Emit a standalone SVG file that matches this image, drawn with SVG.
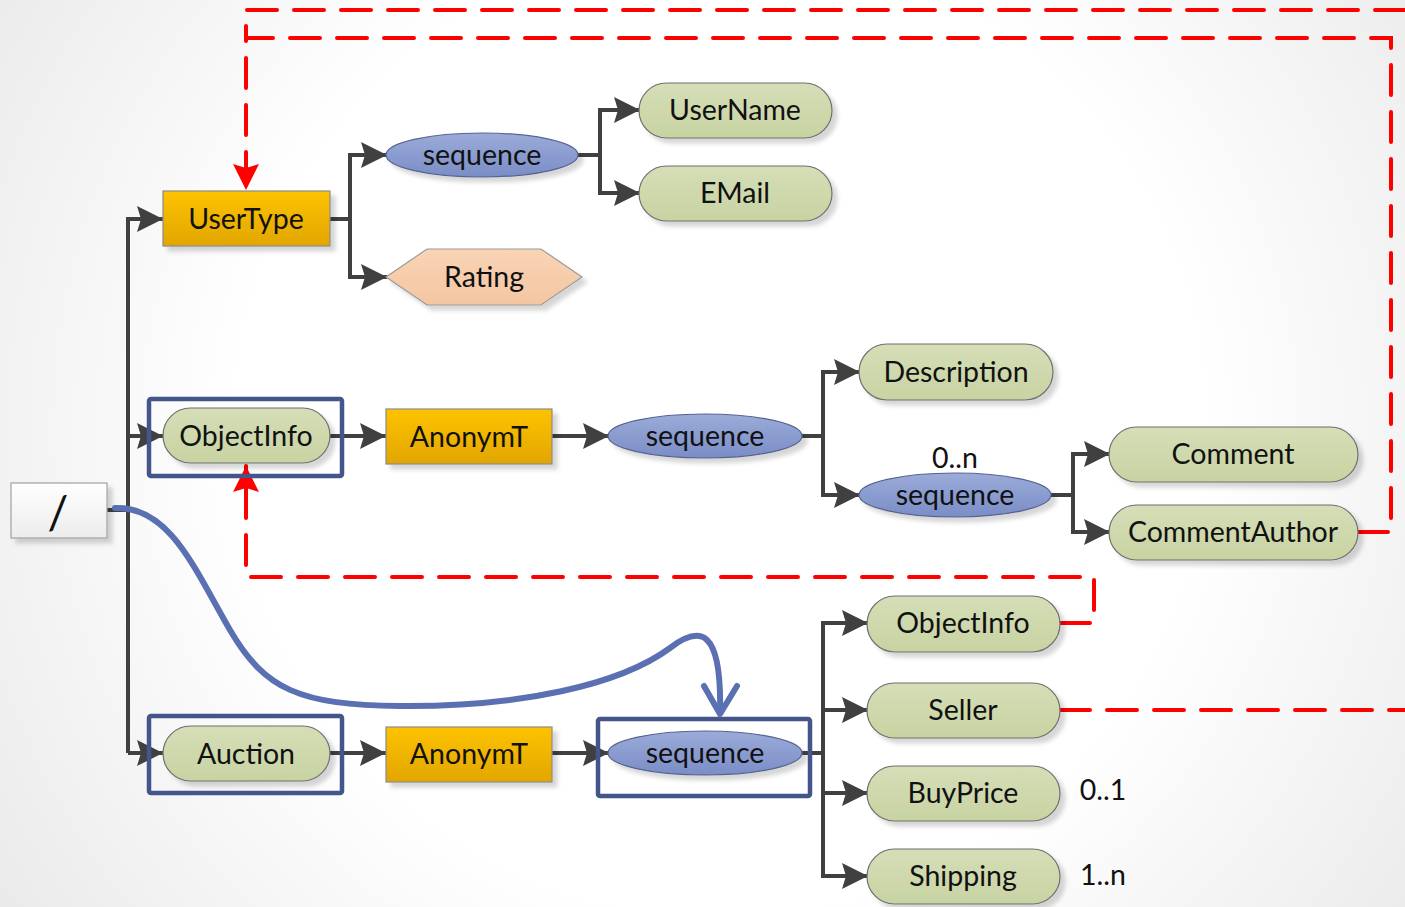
<svg xmlns="http://www.w3.org/2000/svg" width="1405" height="907" viewBox="0 0 1405 907">
  <defs>
    <radialGradient id="bg" gradientUnits="userSpaceOnUse" cx="720" cy="430" r="880">
      <stop offset="0.55" stop-color="#ffffff"/>
      <stop offset="1" stop-color="#e9e9e9"/>
    </radialGradient>
    <linearGradient id="gYellow" x1="0" y1="0" x2="0" y2="1">
      <stop offset="0" stop-color="#fdc300"/>
      <stop offset="1" stop-color="#e2a600"/>
    </linearGradient>
    <linearGradient id="gGreen" x1="0" y1="0" x2="0" y2="1">
      <stop offset="0" stop-color="#d5deb7"/>
      <stop offset="1" stop-color="#c8d3a2"/>
    </linearGradient>
    <linearGradient id="gBlue" x1="0" y1="0" x2="0" y2="1">
      <stop offset="0" stop-color="#9babd9"/>
      <stop offset="1" stop-color="#7a8dc6"/>
    </linearGradient>
    <linearGradient id="gPeach" x1="0" y1="0" x2="0" y2="1">
      <stop offset="0" stop-color="#f9d4b6"/>
      <stop offset="1" stop-color="#f3c6a2"/>
    </linearGradient>
    <linearGradient id="gRoot" x1="0" y1="0" x2="0" y2="1">
      <stop offset="0" stop-color="#ffffff"/>
      <stop offset="1" stop-color="#ececec"/>
    </linearGradient>
    <filter id="shadow" x="-20%" y="-30%" width="140%" height="170%">
      <feDropShadow dx="5" dy="5" stdDeviation="2" flood-color="#000" flood-opacity="0.16"/>
    </filter>
    <marker id="arrow" viewBox="0 0 26 26" refX="26" refY="13" markerWidth="26" markerHeight="26" markerUnits="userSpaceOnUse" orient="auto">
      <path d="M0,0 L26,13 L0,26 L4,13 Z" fill="#404040"/>
    </marker>
    <marker id="arrowRed" viewBox="0 0 26 26" refX="26" refY="13" markerWidth="26" markerHeight="26" markerUnits="userSpaceOnUse" orient="auto">
      <path d="M0,0 L26,13 L0,26 L4,13 Z" fill="#ff0000"/>
    </marker>
  </defs>
  <style>
    text { font-family: Lato, "Liberation Sans", sans-serif; font-size: 28.5px; fill: #111; text-anchor: middle; dominant-baseline: central; }
    .box { fill: url(#gYellow); stroke: #8a8a8a; stroke-width: 1.2; filter: url(#shadow); }
    .pill { fill: url(#gGreen); stroke: #6f6f6f; stroke-width: 1.2; filter: url(#shadow); }
    .seq { fill: url(#gBlue); stroke: #55638f; stroke-width: 1.2; filter: url(#shadow); }
    .hex { fill: url(#gPeach); stroke: #9a9a9a; stroke-width: 1.2; filter: url(#shadow); }
    .root { fill: url(#gRoot); stroke: #a0a0a0; stroke-width: 1.2; filter: url(#shadow); }
    .frame { fill: none; stroke: #44558a; stroke-width: 4.5; }
    .link { fill: none; stroke: #404040; stroke-width: 4; }
    .link.arr { marker-end: url(#arrow); }
    .ref { fill: none; stroke: #ff0000; stroke-width: 4; stroke-dasharray: 30 17; stroke-linecap: round; }
    .ref.arr { marker-end: url(#arrowRed); }
    .path { fill: none; stroke: #5a70b2; stroke-width: 6; stroke-linecap: round; stroke-linejoin: round; }
  </style>

  <rect x="0" y="0" width="1405" height="907" fill="url(#bg)"/>

  <!-- tree connectors -->
  <g id="connectors">
    <path class="link" d="M107,510 H128"/>
    <path class="link arr" d="M128,753 V219 H163"/>
    <path class="link arr" d="M128,436 H163"/>
    <path class="link arr" d="M128,753 H163"/>

    <path class="link arr" d="M330,219 H350 V155 H387"/>
    <path class="link arr" d="M350,219 V277 H387"/>
    <path class="link arr" d="M578,155 H600 V110 H640"/>
    <path class="link arr" d="M600,155 V193 H640"/>

    <path class="link arr" d="M330,436 H386"/>
    <path class="link arr" d="M552,436 H609"/>
    <path class="link arr" d="M802,436 H823 V372 H860"/>
    <path class="link arr" d="M823,436 V495 H860"/>
    <path class="link arr" d="M1051,495 H1073 V454 H1110"/>
    <path class="link arr" d="M1073,495 V532 H1110"/>

    <path class="link arr" d="M330,753 H386"/>
    <path class="link arr" d="M552,753 H609"/>
    <path class="link arr" d="M802,753 H823 V623 H868"/>
    <path class="link arr" d="M823,753 V876 H868"/>
    <path class="link arr" d="M823,710 H868"/>
    <path class="link arr" d="M823,793 H868"/>

    <!-- type references (dashed) -->
    <path class="ref arr" d="M1358,532 H1391 V38 H246 V190"/>
    <path class="ref" d="M1405,10 H246 V38"/>
    <path class="ref arr" d="M1060,623 H1094 V577 H246 V466"/>
    <path class="ref" d="M1060,710 H1405"/>
  </g>

  <!-- nodes -->
  <g id="root">
    <rect class="root" x="11" y="483" width="96" height="55"/>
    <text x="58" y="511" style="font-size:46px">/</text>
  </g>

  <g id="usertype">
    <rect class="box" x="163" y="191" width="167" height="55"/>
    <text x="246" y="218">UserType</text>
  </g>
  <g id="usertype-sequence">
    <ellipse class="seq" cx="482" cy="155" rx="96" ry="22"/>
    <text x="482" y="154">sequence</text>
  </g>
  <g id="username">
    <rect class="pill" x="639" y="83" width="193" height="55" rx="27.5"/>
    <text x="735" y="109">UserName</text>
  </g>
  <g id="email">
    <rect class="pill" x="639" y="166" width="193" height="55" rx="27.5"/>
    <text x="735" y="192">EMail</text>
  </g>
  <g id="rating">
    <polygon class="hex" points="386,277 427,249 541,249 582,277 541,305 427,305"/>
    <text x="484" y="276">Rating</text>
  </g>

  <g id="objectinfo">
    <rect class="pill" x="163" y="408" width="167" height="55" rx="27.5"/>
    <text x="246" y="435">ObjectInfo</text>
  </g>
  <rect id="objectinfo-frame" class="frame" x="149" y="399" width="193" height="77" rx="2"/>
  <g id="objectinfo-type">
    <rect class="box" x="386" y="409" width="166" height="55"/>
    <text x="469" y="436">AnonymT</text>
  </g>
  <g id="objectinfo-sequence">
    <ellipse class="seq" cx="705" cy="436" rx="97" ry="22"/>
    <text x="705" y="435">sequence</text>
  </g>
  <g id="description">
    <rect class="pill" x="859" y="344" width="194" height="56" rx="28"/>
    <text x="956" y="371">Description</text>
  </g>
  <g id="comment-sequence">
    <ellipse class="seq" cx="955" cy="495" rx="96" ry="22"/>
    <text x="955" y="494">sequence</text>
    <text x="955" y="457">0..n</text>
  </g>
  <g id="comment">
    <rect class="pill" x="1109" y="427" width="249" height="55" rx="27.5"/>
    <text x="1233" y="453">Comment</text>
  </g>
  <g id="commentauthor">
    <rect class="pill" x="1109" y="505" width="249" height="55" rx="27.5"/>
    <text x="1233" y="531">CommentAuthor</text>
  </g>

  <g id="auction">
    <rect class="pill" x="163" y="726" width="167" height="55" rx="27.5"/>
    <text x="246" y="753">Auction</text>
  </g>
  <rect id="auction-frame" class="frame" x="149" y="716" width="193" height="77" rx="2"/>
  <g id="auction-type">
    <rect class="box" x="386" y="727" width="166" height="55"/>
    <text x="469" y="753">AnonymT</text>
  </g>
  <g id="auction-sequence">
    <ellipse class="seq" cx="705" cy="753" rx="97" ry="22"/>
    <text x="705" y="752">sequence</text>
  </g>
  <rect id="auction-sequence-frame" class="frame" x="598" y="719" width="212" height="77" rx="2"/>
  <g id="auction-objectinfo">
    <rect class="pill" x="867" y="596" width="193" height="56" rx="28"/>
    <text x="963" y="622">ObjectInfo</text>
  </g>
  <g id="seller">
    <rect class="pill" x="867" y="683" width="193" height="55" rx="27.5"/>
    <text x="963" y="709">Seller</text>
  </g>
  <g id="buyprice">
    <rect class="pill" x="867" y="766" width="193" height="55" rx="27.5"/>
    <text x="963" y="792">BuyPrice</text>
    <text x="1103" y="789">0..1</text>
  </g>
  <g id="shipping">
    <rect class="pill" x="867" y="849" width="193" height="55" rx="27.5"/>
    <text x="963" y="875">Shipping</text>
    <text x="1103" y="874">1..n</text>
  </g>

  <!-- navigation path from the root to the auction sequence -->
  <g id="nav-path">
    <path class="path" d="M115,508 C170,506 195,570 230,630 C265,690 300,705 400,706 C520,707 620,685 670,648 C700,625 722,628 720,713"/>
    <path class="path" d="M704,686 L720,714 L737,686"/>
  </g>
</svg>
